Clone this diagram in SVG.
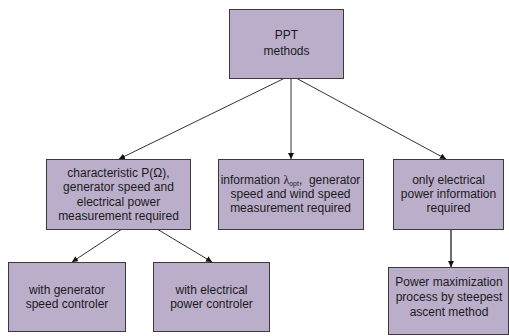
<svg xmlns="http://www.w3.org/2000/svg" width="509" height="336" viewBox="0 0 509 336">
<style>
.box{fill:#bbaecb;stroke:#3a3a3a;stroke-width:1}
.t{font-family:"Liberation Sans",Arial,sans-serif;font-size:12px;fill:#1a1a1a;text-anchor:middle}
.c{stroke:#333;stroke-width:1;fill:none;marker-end:url(#ah)}
.g{stroke:#6e6e6e;stroke-width:2;fill:none;marker-end:url(#ah)}
</style>
<defs>
<marker id="ah" viewBox="0 0 10 10" refX="10" refY="5" markerWidth="6" markerHeight="6" markerUnits="userSpaceOnUse" orient="auto">
<path d="M0,0 L10,5 L0,10 z" fill="#111"/>
</marker>
</defs>
<rect width="509" height="336" fill="#fff"/>
<g id="connectors">
<line class="c" x1="285" y1="78" x2="119" y2="159"/>
<line class="c" x1="291" y1="78" x2="291" y2="159"/>
<line class="c" x1="296" y1="78" x2="446" y2="159"/>
<line class="c" x1="122" y1="229" x2="72" y2="262"/>
<line class="c" x1="157" y1="229" x2="212" y2="262"/>
<line class="g" x1="451" y1="229" x2="451" y2="267"/>
</g>
<g id="ppt">
<rect class="box" x="229.5" y="9.5" width="114" height="69"/>
<text class="t" x="286.5" y="39">PPT</text>
<text class="t" x="286.5" y="55">methods</text>
</g>
<g id="characteristic">
<rect class="box" x="46.5" y="159.5" width="144" height="70"/>
<text class="t" x="118.5" y="177">characteristic P(Ω),</text>
<text class="t" x="118.5" y="191.3">generator speed and</text>
<text class="t" x="118.5" y="205.6">electrical power</text>
<text class="t" x="118.5" y="219.9">measurement required</text>
</g>
<g id="information">
<rect class="box" x="218.5" y="159.5" width="145" height="70"/>
<text class="t" x="290.5" y="184">information <tspan font-family="'Liberation Serif',serif">λ</tspan><tspan font-size="7" dy="1.5">opt</tspan><tspan dy="-1.5">,&#160; generator</tspan></text>
<text class="t" x="290.5" y="198">speed and wind speed</text>
<text class="t" x="290.5" y="212">measurement required</text>
</g>
<g id="only">
<rect class="box" x="393.5" y="159.5" width="110" height="70"/>
<text class="t" x="448.5" y="184">only electrical</text>
<text class="t" x="448.5" y="198">power information</text>
<text class="t" x="448.5" y="212">required</text>
</g>
<g id="genspeed">
<rect class="box" x="8.5" y="262.5" width="117" height="69"/>
<text class="t" x="67" y="294">with generator</text>
<text class="t" x="67" y="308">speed controler</text>
</g>
<g id="elpower">
<rect class="box" x="153.5" y="262.5" width="116" height="69"/>
<text class="t" x="211.5" y="294">with electrical</text>
<text class="t" x="211.5" y="308">power controler</text>
</g>
<g id="maximization">
<rect class="box" x="388.5" y="267.5" width="120" height="67"/>
<text class="t" x="449" y="286">Power maximization</text>
<text class="t" x="449" y="301">process by steepest</text>
<text class="t" x="449" y="316">ascent method</text>
</g>
</svg>
